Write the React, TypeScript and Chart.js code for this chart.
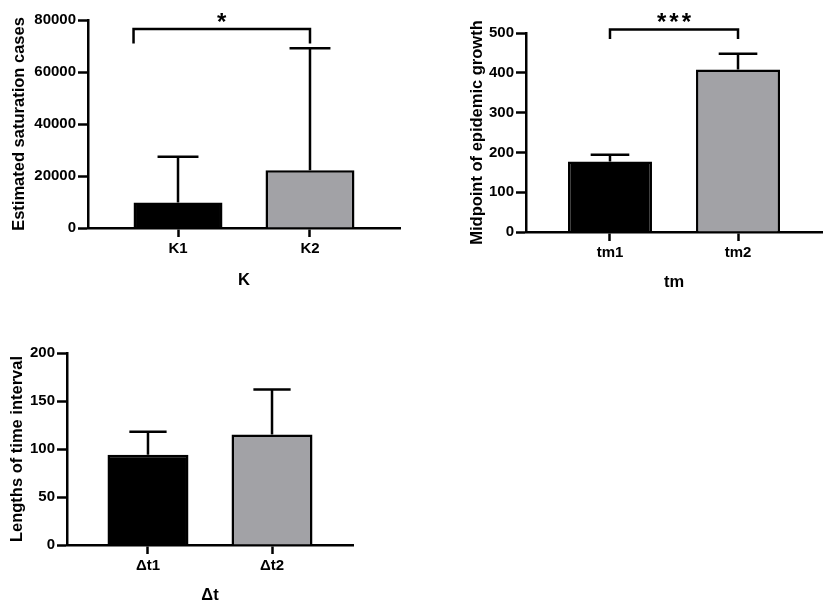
import { useEffect, useRef } from "react"
import { Chart, registerables, type Plugin } from "chart.js"

Chart.register(...registerables)

const INK = "#000"
const GRAY = "#a2a2a6"
const LW = 2.5
const FAMILY = "'Liberation Sans', Arial, sans-serif"

// K panel
const K_CATS = ["K1", "K2"]
const K_MEAN = [9800, 22200]
const K_SD = [17600, 46900]
const K_TICKS = [0, 20000, 40000, 60000, 80000]
const K_SIG = { text: "*", level: 76500, foot: 71000, fromEdge: true }

// tm panel
const TM_CATS = ["tm1", "tm2"]
const TM_MEAN = [177, 408]
const TM_SD = [17, 40]
const TM_TICKS = [0, 100, 200, 300, 400, 500]
const TM_SIG = { text: "***", level: 509, foot: 485, fromEdge: false }

// Δt panel
const DT_CATS = ["Δt1", "Δt2"]
const DT_MEAN = [94, 115]
const DT_SD = [24, 47]
const DT_TICKS = [0, 50, 100, 150, 200]

type Sig = { text: string; level: number; foot: number; fromEdge: boolean }

interface PanelProps {
  cats: string[]
  means: number[]
  sds: number[]
  yTicks: number[]
  yTitle: string
  xTitle: string
  sig?: Sig
  left: number
  top: number
  width: number
  height: number
  axisW: number
  axisH: number
  padTop: number
  padRight: number
  slack: number
  barPct: number
  yTitlePad: number
  xTitlePad: number
}

function Panel(p: PanelProps) {
  const canvasRef = useRef<HTMLCanvasElement>(null)

  useEffect(() => {
    if (!canvasRef.current) return
    Chart.getChart(canvasRef.current)?.destroy()

    // error bars (mean + SD) and the significance bracket
    const marks: Plugin<"bar"> = {
      id: "marks",
      afterDatasetsDraw(chart) {
        const { ctx } = chart
        const ys = chart.scales.y
        const bars = chart.getDatasetMeta(0).data as any[]
        ctx.save()
        ctx.strokeStyle = INK
        ctx.lineWidth = LW
        ctx.lineCap = "butt"
        ctx.lineJoin = "miter"
        bars.forEach((bar, i) => {
          const top = ys.getPixelForValue(p.means[i] + p.sds[i])
          const half = (bar.width * 0.46) / 2
          ctx.beginPath()
          ctx.moveTo(bar.x, bar.y)
          ctx.lineTo(bar.x, top)
          ctx.moveTo(bar.x - half, top)
          ctx.lineTo(bar.x + half, top)
          ctx.stroke()
        })
        if (p.sig) {
          const a = bars[0], b = bars[1]
          const x0 = p.sig.fromEdge ? a.x - a.width / 2 : a.x
          const x1 = b.x
          const yl = ys.getPixelForValue(p.sig.level)
          const yf = ys.getPixelForValue(p.sig.foot)
          ctx.beginPath()
          ctx.moveTo(x0, yf)
          ctx.lineTo(x0, yl)
          ctx.lineTo(x1, yl)
          ctx.lineTo(x1, yf)
          ctx.stroke()
          ctx.fillStyle = INK
          ctx.font = `bold 24px ${FAMILY}`
          ctx.textAlign = "center"
          ctx.textBaseline = "alphabetic"
          ;(ctx as any).letterSpacing = "3px"
          ctx.fillText(p.sig.text, (x0 + x1) / 2 + 1.5, yl + 1)
        }
        ctx.restore()
      },
    }

    const chart = new Chart(canvasRef.current, {
      type: "bar",
      data: {
        datasets: [
          {
            data: p.means.map((y, x) => ({ x, y })),
            backgroundColor: [INK, GRAY],
            borderColor: INK,
            borderWidth: LW,
            categoryPercentage: 1,
            barPercentage: p.barPct,
          },
        ],
      },
      options: {
        animation: false,
        responsive: true,
        maintainAspectRatio: false,
        layout: { padding: { top: p.padTop, right: p.padRight, left: 0, bottom: 0 } },
        plugins: { legend: { display: false }, tooltip: { enabled: false } },
        scales: {
          x: {
            type: "linear",
            offset: false,
            min: -p.slack,
            max: p.cats.length - 1 + p.slack,
            afterBuildTicks: s => { s.ticks = p.cats.map((_, i) => ({ value: i })) },
            afterFit: s => { s.height = p.axisH },
            ticks: {
              callback: v => p.cats[Number(v)] ?? "",
              autoSkip: false,
              maxRotation: 0,
              padding: 3,
              color: INK,
              font: { family: FAMILY, size: 15, weight: "bold" },
            },
            grid: { offset: false, drawOnChartArea: false, tickLength: 9, tickWidth: LW, tickColor: INK },
            border: { color: INK, width: LW },
            title: {
              display: true,
              text: p.xTitle,
              color: INK,
              font: { family: FAMILY, size: 16.5, weight: "bold" },
              padding: { top: 0, bottom: p.xTitlePad },
            },
          },
          y: {
            min: p.yTicks[0],
            max: p.yTicks[p.yTicks.length - 1],
            afterBuildTicks: s => { s.ticks = p.yTicks.map(value => ({ value })) },
            afterFit: s => { s.width = p.axisW },
            ticks: {
              padding: 2,
              color: INK,
              callback: v => String(v),
              font: { family: FAMILY, size: 15, weight: "bold" },
            },
            grid: { drawOnChartArea: false, tickLength: 10, tickWidth: LW, tickColor: INK },
            border: { color: INK, width: LW },
            title: {
              display: true,
              text: p.yTitle,
              color: INK,
              font: { family: FAMILY, size: 16.5, weight: "bold" },
              padding: { top: p.yTitlePad, bottom: 0 },
            },
          },
        },
      },
      plugins: [marks],
    })

    return () => chart.destroy()
  }, [p])

  return (
    <div style={{ position: "absolute", left: p.left, top: p.top, width: p.width, height: p.height }}>
      <canvas ref={canvasRef} />
    </div>
  )
}

const K_PROPS: PanelProps = {
  cats: K_CATS, means: K_MEAN, sds: K_SD, yTicks: K_TICKS, sig: K_SIG,
  yTitle: "Estimated saturation cases", xTitle: "K",
  left: 0, top: 0, width: 420, height: 300,
  axisW: 88, axisH: 72, padTop: 20, padRight: 20,
  slack: 0.682, barPct: 0.674, yTitlePad: 10, xTitlePad: 10,
}

const TM_PROPS: PanelProps = {
  cats: TM_CATS, means: TM_MEAN, sds: TM_SD, yTicks: TM_TICKS, sig: TM_SIG,
  yTitle: "Midpoint of epidemic growth", xTitle: "tm",
  left: 430, top: 0, width: 399, height: 300,
  axisW: 96, axisH: 68, padTop: 33, padRight: 7,
  slack: 0.656, barPct: 0.656, yTitlePad: 38, xTitlePad: 8,
}

const DT_PROPS: PanelProps = {
  cats: DT_CATS, means: DT_MEAN, sds: DT_SD, yTicks: DT_TICKS,
  yTitle: "Lengths of time interval", xTitle: "Δt",
  left: 0, top: 320, width: 420, height: 286,
  axisW: 67, axisH: 61, padTop: 33, padRight: 67,
  slack: 0.653, barPct: 0.653, yTitlePad: 8, xTitlePad: 1,
}

export default function App() {
  return (
    <div style={{ position: "absolute", left: 0, top: 0, width: 829, height: 606, background: "#fff", overflow: "hidden" }}>
      <Panel {...K_PROPS} />
      <Panel {...TM_PROPS} />
      <Panel {...DT_PROPS} />
    </div>
  )
}
